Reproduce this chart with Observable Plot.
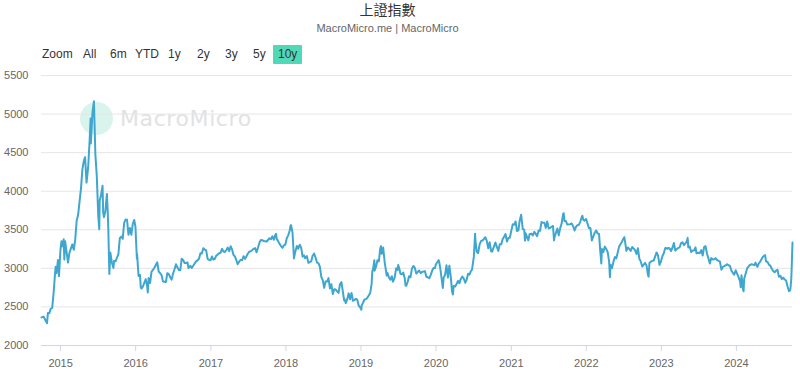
<!DOCTYPE html>
<html>
<head>
<meta charset="utf-8">
<script src="https://cdn.jsdelivr.net/npm/d3@7"></script>
<script src="https://cdn.jsdelivr.net/npm/@observablehq/plot@0.6"></script>
<style>
  html, body { margin: 0; padding: 0; background: #fff; }
  #wrap { position: relative; width: 800px; height: 382px; overflow: hidden; font-family: "Liberation Sans", Helvetica, Arial, sans-serif; }
  .abs { position: absolute; white-space: nowrap; }
  #title { left: 0; width: 775px; top: 0; text-align: center; font-size: 14px; color: #333; line-height: 18px; font-family: "Noto Sans CJK TC", "Liberation Sans", sans-serif; }
  #subtitle { left: 0; width: 775px; top: 21px; text-align: center; font-size: 11px; color: #666; line-height: 14px; }
  .btn { top: 46px; font-size: 12px; color: #333; line-height: 17px; }
  #btn10 { background: #4fd9b7; padding: 0 5px; border-radius: 1px; top: 45px; line-height: 19px; }
  #wm-circle { left: 80px; top: 102px; width: 33px; height: 33px; border-radius: 50%; background: #d8f4ec; }
  #wm-text { left: 120px; top: 105px; font-family: "DejaVu Sans", sans-serif; font-size: 22px; letter-spacing: 0.6px; color: #e2e2e2; line-height: 28px; }
  #chart { position: absolute; left: 0; top: 65px; }
</style>
</head>
<body>
<div id="wrap">
  <div id="wm-circle" class="abs"></div>
  <div id="wm-text" class="abs">MacroMicro</div>
  <div id="title" class="abs">上證指數</div>
  <div id="subtitle" class="abs">MacroMicro.me | MacroMicro</div>
  <div id="buttons"></div>
  <div id="chart"></div>
</div>
<script>
const title = "上證指數";
const rangeButtons = ["Zoom", "All", "6m", "YTD", "1y", "2y", "3y", "5y", "10y"];
const buttonLeft = [42, 83, 110, 135, 168, 197, 225, 253, 273];
const yTicks = [2000, 2500, 3000, 3500, 4000, 4500, 5000, 5500];

const dates = [
"2014-09-30","2014-10-10","2014-10-17","2014-10-24","2014-10-27","2014-10-31","2014-11-07","2014-11-14","2014-11-21","2014-11-28","2014-12-05","2014-12-08","2014-12-12","2014-12-19","2014-12-24","2014-12-31",
"2015-01-05","2015-01-09","2015-01-16","2015-01-19","2015-01-23","2015-01-30","2015-02-06","2015-02-13","2015-02-27","2015-03-06","2015-03-13","2015-03-20","2015-03-27","2015-04-03","2015-04-10","2015-04-17","2015-04-24","2015-04-30","2015-05-07","2015-05-15","2015-05-22","2015-05-27","2015-05-28","2015-06-05","2015-06-12","2015-06-19","2015-06-26","2015-07-03","2015-07-08","2015-07-10","2015-07-17","2015-07-24","2015-07-27","2015-07-31","2015-08-07","2015-08-14","2015-08-18","2015-08-21","2015-08-26","2015-08-31","2015-09-07","2015-09-15","2015-09-18","2015-09-25","2015-10-09","2015-10-16","2015-10-23","2015-10-30","2015-11-06","2015-11-13","2015-11-20","2015-11-27","2015-12-04","2015-12-11","2015-12-18","2015-12-25","2015-12-31",
"2016-01-04","2016-01-07","2016-01-08","2016-01-15","2016-01-22","2016-01-26","2016-01-29","2016-02-05","2016-02-19","2016-02-26","2016-02-29","2016-03-04","2016-03-11","2016-03-18","2016-03-25","2016-04-01","2016-04-15","2016-04-22","2016-04-29","2016-05-06","2016-05-13","2016-05-20","2016-05-27","2016-06-03","2016-06-10","2016-06-17","2016-06-24","2016-07-01","2016-07-08","2016-07-15","2016-07-22","2016-07-29","2016-08-05","2016-08-12","2016-08-19","2016-08-26","2016-09-02","2016-09-09","2016-09-14","2016-09-23","2016-09-30","2016-10-14","2016-10-21","2016-10-28","2016-11-04","2016-11-11","2016-11-18","2016-11-25","2016-12-02","2016-12-09","2016-12-16","2016-12-23","2016-12-30",
"2017-01-06","2017-01-13","2017-01-20","2017-01-26","2017-02-10","2017-02-17","2017-02-24","2017-03-03","2017-03-10","2017-03-17","2017-03-24","2017-03-31","2017-04-07","2017-04-14","2017-04-21","2017-04-28","2017-05-05","2017-05-11","2017-05-19","2017-05-26","2017-06-02","2017-06-09","2017-06-16","2017-06-23","2017-06-30","2017-07-07","2017-07-14","2017-07-21","2017-07-28","2017-08-04","2017-08-11","2017-08-18","2017-08-25","2017-09-01","2017-09-08","2017-09-15","2017-09-22","2017-09-29","2017-10-13","2017-10-20","2017-10-27","2017-11-03","2017-11-10","2017-11-14","2017-11-17","2017-11-24","2017-12-01","2017-12-08","2017-12-15","2017-12-22","2017-12-29",
"2018-01-05","2018-01-12","2018-01-19","2018-01-24","2018-01-26","2018-02-02","2018-02-09","2018-02-14","2018-02-23","2018-03-02","2018-03-09","2018-03-16","2018-03-23","2018-03-30","2018-04-04","2018-04-13","2018-04-20","2018-04-27","2018-05-04","2018-05-11","2018-05-18","2018-05-25","2018-06-01","2018-06-08","2018-06-15","2018-06-22","2018-06-29","2018-07-06","2018-07-13","2018-07-20","2018-07-27","2018-08-03","2018-08-10","2018-08-17","2018-08-24","2018-08-31","2018-09-07","2018-09-14","2018-09-21","2018-09-28","2018-10-11","2018-10-12","2018-10-19","2018-10-26","2018-11-02","2018-11-09","2018-11-16","2018-11-23","2018-11-30","2018-12-07","2018-12-14","2018-12-21","2018-12-28",
"2019-01-03","2019-01-04","2019-01-11","2019-01-18","2019-01-25","2019-02-01","2019-02-15","2019-02-22","2019-02-25","2019-03-01","2019-03-07","2019-03-08","2019-03-15","2019-03-22","2019-03-29","2019-04-04","2019-04-08","2019-04-12","2019-04-19","2019-04-26","2019-05-06","2019-05-10","2019-05-17","2019-05-24","2019-05-31","2019-06-06","2019-06-14","2019-06-21","2019-06-28","2019-07-01","2019-07-05","2019-07-12","2019-07-19","2019-07-26","2019-08-02","2019-08-06","2019-08-09","2019-08-16","2019-08-23","2019-08-30","2019-09-06","2019-09-13","2019-09-20","2019-09-27","2019-10-11","2019-10-18","2019-10-25","2019-11-01","2019-11-08","2019-11-15","2019-11-22","2019-11-29","2019-12-06","2019-12-13","2019-12-20","2019-12-27","2019-12-31",
"2020-01-10","2020-01-14","2020-01-17","2020-01-23","2020-02-03","2020-02-07","2020-02-14","2020-02-21","2020-02-28","2020-03-06","2020-03-13","2020-03-19","2020-03-23","2020-03-27","2020-04-03","2020-04-10","2020-04-17","2020-04-24","2020-04-30","2020-05-08","2020-05-15","2020-05-22","2020-05-29","2020-06-05","2020-06-12","2020-06-19","2020-06-24","2020-07-03","2020-07-09","2020-07-10","2020-07-17","2020-07-24","2020-07-31","2020-08-07","2020-08-14","2020-08-21","2020-08-28","2020-09-04","2020-09-11","2020-09-18","2020-09-25","2020-09-30","2020-10-16","2020-10-23","2020-10-30","2020-11-06","2020-11-13","2020-11-20","2020-11-27","2020-12-04","2020-12-11","2020-12-18","2020-12-25","2020-12-31",
"2021-01-08","2021-01-15","2021-01-22","2021-01-29","2021-02-05","2021-02-10","2021-02-18","2021-02-26","2021-03-05","2021-03-09","2021-03-12","2021-03-19","2021-03-25","2021-03-31","2021-04-09","2021-04-16","2021-04-23","2021-04-30","2021-05-07","2021-05-14","2021-05-21","2021-05-28","2021-06-04","2021-06-11","2021-06-18","2021-06-25","2021-07-02","2021-07-09","2021-07-16","2021-07-23","2021-07-28","2021-07-30","2021-08-06","2021-08-13","2021-08-20","2021-08-27","2021-09-03","2021-09-10","2021-09-13","2021-09-17","2021-09-24","2021-09-30","2021-10-15","2021-10-22","2021-10-29","2021-11-05","2021-11-12","2021-11-19","2021-11-26","2021-12-03","2021-12-10","2021-12-13","2021-12-17","2021-12-24","2021-12-31",
"2022-01-07","2022-01-14","2022-01-21","2022-01-28","2022-02-11","2022-02-18","2022-02-25","2022-03-04","2022-03-09","2022-03-15","2022-03-18","2022-03-25","2022-04-01","2022-04-08","2022-04-15","2022-04-22","2022-04-26","2022-04-29","2022-05-06","2022-05-13","2022-05-20","2022-05-27","2022-06-02","2022-06-10","2022-06-17","2022-06-24","2022-07-01","2022-07-05","2022-07-08","2022-07-15","2022-07-22","2022-07-29","2022-08-05","2022-08-12","2022-08-19","2022-08-26","2022-09-02","2022-09-09","2022-09-16","2022-09-23","2022-09-30","2022-10-14","2022-10-21","2022-10-28","2022-10-31","2022-11-04","2022-11-11","2022-11-18","2022-11-25","2022-12-02","2022-12-09","2022-12-16","2022-12-23","2022-12-30",
"2023-01-06","2023-01-13","2023-01-20","2023-01-31","2023-02-03","2023-02-10","2023-02-17","2023-02-24","2023-03-03","2023-03-10","2023-03-17","2023-03-24","2023-03-31","2023-04-07","2023-04-14","2023-04-21","2023-04-28","2023-05-05","2023-05-09","2023-05-12","2023-05-19","2023-05-26","2023-06-02","2023-06-09","2023-06-16","2023-06-21","2023-06-30","2023-07-07","2023-07-14","2023-07-21","2023-07-28","2023-08-04","2023-08-11","2023-08-18","2023-08-25","2023-09-01","2023-09-08","2023-09-15","2023-09-22","2023-09-28","2023-10-13","2023-10-20","2023-10-27","2023-11-03","2023-11-10","2023-11-17","2023-11-24","2023-12-01","2023-12-08","2023-12-15","2023-12-21","2023-12-29",
"2024-01-05","2024-01-12","2024-01-19","2024-01-22","2024-01-26","2024-02-02","2024-02-05","2024-02-08","2024-02-23","2024-03-01","2024-03-08","2024-03-15","2024-03-22","2024-03-29","2024-04-03","2024-04-12","2024-04-19","2024-04-26","2024-05-10","2024-05-20","2024-05-24","2024-05-31","2024-06-07","2024-06-14","2024-06-21","2024-06-28","2024-07-05","2024-07-12","2024-07-19","2024-07-26","2024-08-02","2024-08-09","2024-08-16","2024-08-23","2024-08-30","2024-09-06","2024-09-13","2024-09-18","2024-09-20","2024-09-24","2024-09-26","2024-09-27","2024-09-30"
];
const values = [
2364,2374,2341,2302,2290,2420,2418,2478,2487,2683,2938,3020,2938,3108,2900,3234,
3350,3285,3376,3116,3351,3210,3076,3203,3310,3241,3372,3617,3691,3863,4034,4287,4394,4441,4112,4308,4657,4941,4620,5023,5166,4478,4192,3686,3507,3877,3957,4070,3725,3664,3744,3965,3748,3507,2927,3205,3080,3005,3097,3092,3183,3391,3412,3383,3590,3632,3630,3436,3524,3435,3578,3628,3539,
3296,3125,3186,2901,2916,2750,2738,2763,2860,2767,2688,2874,2810,2955,2979,3009,3078,2959,2938,2913,2828,2826,2822,2938,2927,2885,2854,2933,2989,3054,3013,2979,2976,3125,3108,3070,3068,3078,3003,3033,3005,3064,3090,3104,3125,3196,3192,3262,3243,3232,3123,3110,3104,
3154,3113,3123,3159,3196,3202,3253,3218,3212,3237,3269,3222,3287,3246,3173,3154,3103,3053,3090,3110,3105,3158,3123,3157,3192,3217,3222,3237,3253,3262,3208,3268,3331,3367,3365,3353,3352,3348,3390,3378,3416,3371,3432,3447,3382,3353,3317,3289,3266,3297,3307,
3391,3428,3488,3559,3558,3462,3129,3199,3289,3254,3307,3269,3152,3169,3131,3159,3071,3082,3091,3163,3193,3141,3075,3067,3022,2890,2847,2747,2831,2829,2874,2740,2795,2669,2730,2725,2703,2682,2797,2821,2584,2607,2550,2598,2676,2599,2680,2580,2588,2605,2594,2516,2494,
2464,2515,2554,2596,2601,2618,2682,2804,2961,2994,3106,2969,3022,3104,3091,3247,3288,3189,3270,3086,2906,2939,2882,2852,2898,2827,2882,3001,2979,3044,3011,2930,2924,2944,2868,2777,2774,2823,2898,2886,2999,3031,3006,2932,2973,2938,2954,2958,2964,2891,2885,2871,2912,2968,3004,3005,3050,
3092,3106,3075,2976,2746,2876,2917,3039,2880,3034,2887,2702,2660,2772,2764,2797,2838,2809,2860,2895,2868,2813,2852,2931,2920,2967,2980,3152,3450,3384,3214,3197,3310,3354,3361,3381,3403,3355,3260,3338,3219,3218,3336,3278,3225,3313,3311,3378,3409,3445,3347,3395,3397,3473,
3570,3566,3607,3483,3496,3603,3696,3509,3502,3360,3454,3405,3364,3442,3451,3426,3474,3447,3418,3490,3487,3600,3592,3590,3525,3607,3518,3524,3539,3550,3362,3397,3458,3516,3427,3522,3581,3703,3715,3613,3613,3568,3572,3582,3547,3491,3539,3560,3564,3607,3666,3681,3632,3618,3640,
3580,3521,3522,3361,3462,3491,3452,3447,3256,3064,3251,3212,3282,3252,3211,3087,2886,3047,3002,3084,3147,3130,3195,3285,3316,3349,3388,3404,3356,3228,3270,3253,3227,3277,3258,3236,3186,3262,3126,3088,3024,3071,3038,2915,2893,3070,3087,3097,3101,3156,3206,3167,3045,3089,
3157,3195,3264,3255,3263,3260,3224,3267,3328,3230,3250,3265,3273,3327,3338,3301,3323,3350,3395,3272,3283,3212,3230,3231,3273,3197,3202,3197,3237,3167,3276,3288,3189,3131,3064,3133,3116,3117,3132,3110,3088,2983,3017,3030,3038,3054,3040,3031,2969,2942,2918,2975,
2929,2882,2832,2756,2910,2730,2702,2866,3004,3027,3046,3054,3048,3041,3074,3019,3065,3088,3154,3171,3089,3087,3051,3033,2998,2967,2950,2971,2982,2890,2905,2862,2880,2855,2842,2765,2704,2717,2736,2864,3000,3088,3336
];

const data = dates.map((d, i) => ({date: new Date(d + "T00:00:00Z"), value: values[i]}));

// buttons
const bwrap = document.getElementById("buttons");
rangeButtons.forEach((b, i) => {
  const s = document.createElement("span");
  s.className = "abs btn";
  if (b === "10y") s.id = "btn10";
  s.style.left = buttonLeft[i] + "px";
  s.textContent = b;
  bwrap.appendChild(s);
});

const chart = Plot.plot({
  width: 800,
  height: 317,
  marginTop: 10,
  marginBottom: 37,
  marginLeft: 41,
  marginRight: 8,
  style: {fontFamily: "'Liberation Sans', Helvetica, Arial, sans-serif", fontSize: "11px", background: "transparent", color: "#666"},
  x: {type: "utc", domain: [new Date("2014-09-30T00:00:00Z"), new Date("2024-09-30T00:00:00Z")]},
  y: {domain: [2000, 5500]},
  marks: [
    Plot.gridY(yTicks, {stroke: "#e6e6e6", strokeOpacity: 1}),
    Plot.axisY(yTicks, {tickSize: 0, tickPadding: 13, label: null, fill: "#666", textAnchor: "end", tickFormat: d => String(d)}),
    Plot.axisX({ticks: d3.utcYear.every(1), tickFormat: d3.utcFormat("%Y"), tickSize: 6, tickPadding: 8, label: null, stroke: "#ccd6eb", fill: "#666"}),
    Plot.ruleY([2000], {stroke: "#ccd6eb"}),
    Plot.line(data, {x: "date", y: "value", stroke: "#3fa7cf", strokeWidth: 2, strokeLinejoin: "round"})
  ]
});
document.getElementById("chart").appendChild(chart);
</script>
</body>
</html>
